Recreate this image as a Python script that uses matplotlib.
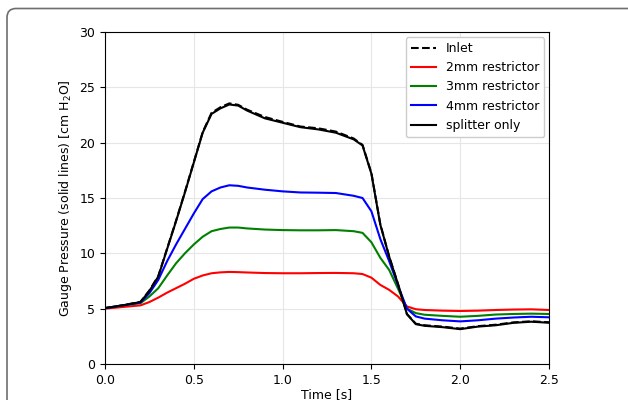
import matplotlib
matplotlib.use("Agg")
import matplotlib.pyplot as plt
from matplotlib.patches import FancyBboxPatch

time = [0, 0.1, 0.2, 0.25, 0.3, 0.35, 0.4, 0.45, 0.5, 0.55, 0.6, 0.65, 0.7, 0.75, 0.8, 0.9,
        1.0, 1.1, 1.2, 1.3, 1.4, 1.45, 1.5, 1.55, 1.6, 1.65, 1.7, 1.75, 1.8, 1.9, 2.0, 2.1,
        2.2, 2.3, 2.4, 2.5]

inlet = [5.05, 5.3, 5.62, 6.65, 7.95, 10.45, 12.95, 15.55, 18.25, 20.95, 22.7, 23.2, 23.55, 23.42,
         22.98, 22.32, 21.88, 21.46, 21.3, 21.0, 20.38, 19.8, 17.25, 12.65, 9.72, 7.22, 4.52, 3.64,
         3.5, 3.38, 3.2, 3.42, 3.55, 3.76, 3.86, 3.77]
splitter = [5.05, 5.3, 5.6, 6.6, 7.9, 10.4, 12.9, 15.5, 18.2, 20.9, 22.6, 23.1, 23.45, 23.35,
            22.9, 22.2, 21.8, 21.4, 21.2, 20.9, 20.3, 19.75, 17.2, 12.6, 9.7, 7.2, 4.5, 3.6,
            3.45, 3.33, 3.15, 3.38, 3.5, 3.72, 3.82, 3.73]
r2mm = [5.0, 5.15, 5.3, 5.6, 6.0, 6.45, 6.85, 7.25, 7.7, 8.0, 8.2, 8.28, 8.32, 8.3, 8.27, 8.22,
        8.2, 8.2, 8.22, 8.23, 8.2, 8.13, 7.8, 7.15, 6.7, 6.1, 5.2, 4.95, 4.88, 4.82, 4.79, 4.82,
        4.88, 4.92, 4.94, 4.88]
r3mm = [5.05, 5.3, 5.5, 6.1, 6.85, 8.0, 9.1, 10.0, 10.8, 11.5, 12.0, 12.2, 12.33, 12.33, 12.25,
        12.15, 12.1, 12.08, 12.08, 12.1, 12.0, 11.85, 11.0, 9.6, 8.5, 6.8, 5.0, 4.6, 4.45, 4.35,
        4.27, 4.35, 4.47, 4.52, 4.55, 4.52]
r4mm = [5.05, 5.3, 5.55, 6.4, 7.6, 9.3, 10.8, 12.2, 13.6, 14.9, 15.6, 15.95, 16.15, 16.1, 15.95,
        15.75, 15.6, 15.5, 15.48, 15.45, 15.2, 15.0, 13.8, 11.3, 9.3, 7.1, 5.0, 4.3, 4.1, 3.95,
        3.85, 3.95, 4.1, 4.2, 4.27, 4.22]

xticks = [0.0, 0.5, 1.0, 1.5, 2.0, 2.5]
yticks = [0, 5, 10, 15, 20, 25, 30]

plt.rcParams['font.family'] = ['DejaVu Sans']
fig = plt.figure(figsize=(6.28, 4.0), dpi=100)
frame = FancyBboxPatch((0.07, -2.0), 10.0, 2.0 + 3.915,
                       boxstyle="round,pad=0,rounding_size=0.09",
                       transform=fig.dpi_scale_trans, facecolor='none', edgecolor='#6e6e6e',
                       linewidth=1.2)
fig.patches.append(frame)

ax = fig.add_axes([105/628, 1 - 364/400, 444/628, 332/400])
ax.plot(time, inlet, color='black', linestyle='--', lw=1.5, label='Inlet')
ax.plot(time, r2mm, color='red', lw=1.5, label='2mm restrictor')
ax.plot(time, r3mm, color='green', lw=1.5, label='3mm restrictor')
ax.plot(time, r4mm, color='blue', lw=1.5, label='4mm restrictor')
ax.plot(time, splitter, color='black', lw=1.5, label='splitter only')

ax.set_xlim(0, 2.5)
ax.set_ylim(0, 30)
ax.set_xticks(xticks)
ax.set_yticks(yticks)
ax.tick_params(labelsize=9)
ax.grid(True, color='#e6e6e6', lw=0.8)
ax.set_axisbelow(True)
ax.set_xlabel('Time [s]', fontsize=9, labelpad=1)
ax.set_ylabel('Gauge Pressure (solid lines) [cm H$_2$O]', fontsize=9)
ax.legend(loc='upper right', fontsize=9, framealpha=1.0, borderaxespad=0.4)

fig.savefig('out.png', dpi=100)
